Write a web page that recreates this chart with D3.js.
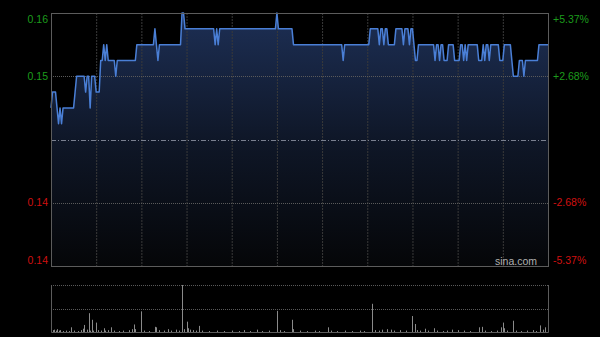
<!DOCTYPE html>
<html>
<head>
<meta charset="utf-8">
<script src="https://cdn.jsdelivr.net/npm/d3@7"></script>
<style>
    html, body { margin: 0; padding: 0; background: #000; }
    svg { display: block; }
    text { font-family: Arial, "Liberation Sans", sans-serif; }
</style>
</head>
<body>
<div id="content"></div>
<script>
const prevClose = 0.149;
const rangePct = 5.37;
const minutes = 330;

// [first minute, price] - price holds until the next entry
const priceRuns = [
    [0, .151], [1, .152], [4, .151], [5, .150], [6, .151], [7, .150], [8, .151], [16, .152], [17, .153],
    [23, .152], [24, .153], [26, .151], [27, .153], [30, .152], [33, .154], [35, .155], [36, .154],
    [37, .155], [38, .154], [43, .153], [44, .154], [57, .155], [69, .156], [70, .155], [71, .154],
    [72, .155], [87, .157], [89, .156], [109, .155], [110, .156], [111, .155], [112, .156], [150, .157],
    [151, .156], [161, .155], [194, .154], [195, .155], [212, .156], [218, .155], [219, .156], [221, .155],
    [222, .156], [224, .155], [229, .156], [234, .155], [235, .156], [238, .155], [239, .156], [241, .155],
    [242, .154], [244, .155], [255, .154], [256, .155], [258, .154], [259, .155], [261, .154], [264, .155],
    [268, .154], [272, .155], [274, .154], [275, .155], [276, .154], [277, .155], [284, .154], [287, .155],
    [288, .154], [289, .155], [291, .154], [292, .155], [298, .154], [301, .155], [306, .154], [307, .153],
    [311, .154], [314, .153], [315, .154], [324, .155]
];

// [minute, volume] - minutes not listed had no trades
const volumes = [
    [0, 6], [1, 4], [2, 5], [3, 3], [4, 6], [5, 3], [6, 4], [8, 2], [10, 3], [12, 2], [13, 10], [15, 3],
    [18, 2], [20, 4], [21, 7], [22, 15], [24, 5], [25, 40], [26, 3], [27, 26], [28, 3], [30, 20], [31, 4],
    [33, 3], [35, 8], [36, 3], [38, 4], [40, 10], [42, 3], [45, 2], [48, 3], [52, 4], [54, 6], [55, 16],
    [56, 6], [60, 44], [62, 3], [65, 2], [69, 11], [70, 10], [72, 4], [75, 3], [78, 6], [80, 3], [83, 5],
    [85, 3], [87, 100], [88, 6], [90, 22], [91, 8], [92, 5], [94, 4], [96, 3], [98, 13], [100, 3], [105, 2],
    [110, 3], [115, 2], [120, 3], [125, 2], [128, 4], [132, 2], [137, 5], [140, 2], [145, 3], [150, 45],
    [152, 4], [155, 2], [160, 26], [161, 6], [165, 3], [170, 2], [175, 3], [178, 2], [184, 10], [186, 3],
    [190, 2], [195, 3], [200, 2], [205, 3], [208, 2], [213, 60], [215, 4], [218, 3], [220, 5], [223, 6],
    [226, 5], [228, 3], [232, 4], [236, 3], [240, 34], [242, 17], [243, 4], [245, 3], [248, 7], [250, 3],
    [254, 8], [256, 3], [260, 2], [263, 3], [266, 5], [270, 4], [274, 3], [278, 2], [284, 10], [286, 11],
    [288, 3], [292, 2], [296, 3], [299, 10], [300, 20], [301, 8], [303, 3], [307, 24], [309, 3], [312, 2],
    [316, 3], [320, 4], [322, 2], [325, 14], [327, 5], [328, 10], [330, 7]
];

const gridMinutes = [30, 60, 90, 120, 150, 180, 210, 240, 270, 300];
const pctTicks = [5.37, 2.68, -2.68, -5.37];
const priceLabels = ['0.16', '0.15', '0.14', '0.14'];
const pctLabels = ['+5.37%', '+2.68%', '-2.68%', '-5.37%'];

const width = 600;
const height = 337;
const main = { left: 51, right: 548, top: 13, bottom: 266 };
const vol = { top: 285, bottom: 332 };

const prices = d3.range(minutes + 1).map(m => {
    const run = priceRuns.filter(r => r[0] <= m).pop();
    return { m, p: run[1] };
});

const x = d3.scaleLinear().domain([0, minutes]).range([main.left, main.right]);
const y = d3.scaleLinear()
    .domain([prevClose * (1 - rangePct / 100), prevClose * (1 + rangePct / 100)])
    .range([main.bottom, main.top]);
const yPct = pct => y(prevClose * (1 + pct / 100));
const yVol = d3.scaleLinear().domain([0, d3.max(volumes, v => v[1])]).range([vol.bottom, vol.top]);

const upColor = '#1c9c1c';
const downColor = '#d01010';

const svg = d3.select('#content').append('svg')
    .attr('width', width)
    .attr('height', height);

const defs = svg.append('defs');
const grad = defs.append('linearGradient')
    .attr('id', 'areaFill')
    .attr('x1', 0).attr('y1', 0).attr('x2', 0).attr('y2', 1);
grad.append('stop').attr('offset', '0%').attr('stop-color', '#1d2f55');
grad.append('stop').attr('offset', '50%').attr('stop-color', '#0f1728');
grad.append('stop').attr('offset', '100%').attr('stop-color', '#050608');

const area = d3.area()
    .x(d => x(d.m))
    .y0(main.bottom)
    .y1(d => y(d.p));

svg.append('path')
    .datum(prices)
    .attr('d', area)
    .attr('fill', 'url(#areaFill)')
    .attr('fill-opacity', 1);

// grid
svg.append('g')
    .selectAll('line')
    .data(gridMinutes)
    .enter()
    .append('line')
    .attr('x1', m => x(m) + 0.5)
    .attr('x2', m => x(m) + 0.5)
    .attr('y1', main.top)
    .attr('y2', main.bottom)
    .style('stroke', '#3a3a3a')
    .style('stroke-width', 1)
    .style('stroke-dasharray', '2,1');

svg.append('g')
    .selectAll('line')
    .data([2.68, -2.68])
    .enter()
    .append('line')
    .attr('x1', main.left)
    .attr('x2', main.right)
    .attr('y1', p => Math.round(yPct(p)) + 0.5)
    .attr('y2', p => Math.round(yPct(p)) + 0.5)
    .style('stroke', '#5a5a5a')
    .style('stroke-width', 1)
    .style('stroke-dasharray', '1,1');

svg.append('line')
    .attr('x1', main.left)
    .attr('x2', main.right)
    .attr('y1', Math.round(yPct(0)) + 0.5)
    .attr('y2', Math.round(yPct(0)) + 0.5)
    .style('stroke', '#7a8090')
    .style('stroke-width', 1)
    .style('stroke-dasharray', '5,2,1,2');

const line = d3.line()
    .x(d => x(d.m))
    .y(d => y(d.p));

svg.append('path')
    .datum(prices)
    .attr('d', line)
    .attr('fill', 'none')
    .style('stroke', '#4a7fd6')
    .style('stroke-width', 1.5)
    .style('stroke-linejoin', 'round');

svg.append('rect')
    .attr('x', main.left + 0.5)
    .attr('y', main.top + 0.5)
    .attr('width', main.right - main.left)
    .attr('height', main.bottom - main.top)
    .attr('fill', 'none')
    .style('stroke', '#5c5c5c')
    .style('stroke-width', 1);

// labels; the outer ones are pulled inside the frame
const labelY = (pct, i) => yPct(pct) + (i === 0 ? 6 : i === pctTicks.length - 1 ? -6 : 0);

svg.append('g')
    .selectAll('text')
    .data(pctTicks)
    .enter()
    .append('text')
    .attr('x', main.left - 3)
    .attr('y', labelY)
    .attr('dy', '0.35em')
    .attr('text-anchor', 'end')
    .style('font-size', '10.5px')
    .style('fill', p => p > 0 ? upColor : downColor)
    .text((p, i) => priceLabels[i]);

svg.append('g')
    .selectAll('text')
    .data(pctTicks)
    .enter()
    .append('text')
    .attr('x', main.right + 5)
    .attr('y', labelY)
    .attr('dy', '0.35em')
    .attr('text-anchor', 'start')
    .style('font-size', '10.5px')
    .style('fill', p => p > 0 ? upColor : downColor)
    .text((p, i) => pctLabels[i]);

svg.append('text')
    .attr('x', 537)
    .attr('y', 265)
    .attr('text-anchor', 'end')
    .style('font-size', '10.5px')
    .style('fill', '#b0b0b0')
    .text('sina.com');

// volume panel
svg.append('g')
    .selectAll('line')
    .data([vol.top, (vol.top + vol.bottom) / 2])
    .enter()
    .append('line')
    .attr('x1', main.left)
    .attr('x2', main.right)
    .attr('y1', v => Math.round(v) + 0.5)
    .attr('y2', v => Math.round(v) + 0.5)
    .style('stroke', '#5a5a5a')
    .style('stroke-width', 1)
    .style('stroke-dasharray', '1,1');

svg.append('g')
    .selectAll('line')
    .data(volumes)
    .enter()
    .append('line')
    .attr('x1', v => Math.round(x(v[0])) + 0.5)
    .attr('x2', v => Math.round(x(v[0])) + 0.5)
    .attr('y1', vol.bottom)
    .attr('y2', v => yVol(v[1]))
    .style('stroke', '#8a8a8a')
    .style('stroke-width', 1);

svg.append('path')
    .attr('d', `M${main.left + 0.5},${vol.top}V${vol.bottom + 0.5}H${main.right + 0.5}V${vol.top}`)
    .attr('fill', 'none')
    .style('stroke', '#5c5c5c')
    .style('stroke-width', 1);
</script>
</body>
</html>
